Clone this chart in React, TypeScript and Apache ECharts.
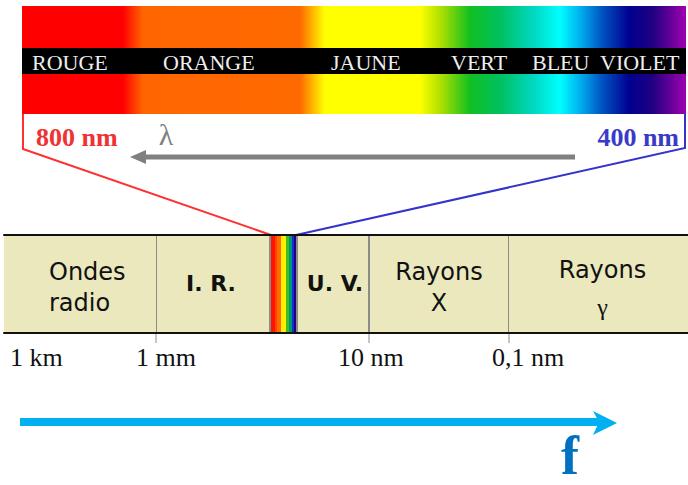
import React, { useEffect, useRef } from "react";
import * as echarts from "echarts";

// ---- data ----
const bandNames = ["Ondes\nradio", "I. R.", "", "U. V.", "Rayons\nX", "Rayons\nγ"];
const bandWidths = [152, 114, 27, 72, 140, 179];
const wavelengthLabels = ["1 km", "1 mm", "10 nm", "0,1 nm"];
const wavelengthBoundary = [0, 1, 4, 5];
const dividerBoundaries = [1, 4, 5];
const colorNames = ["ROUGE", "ORANGE", "JAUNE", "VERT", "BLEU", "VIOLET"];
const visibleRange = ["800 nm", "400 nm"];
const spectrumStops: [number, string][] = [
  [0, "#FF0000"], [0.152, "#FF0000"], [0.182, "#FF6600"], [0.419, "#FF6A00"],
  [0.456, "#FFFF00"], [0.599, "#FFFF00"], [0.63, "#B0E000"], [0.675, "#10C020"],
  [0.72, "#00C060"], [0.77, "#00D8C0"], [0.81, "#00FFFF"], [0.84, "#00B0F0"],
  [0.875, "#0050C0"], [0.915, "#000090"], [0.95, "#200080"], [1, "#A000B0"],
];
const stripColors = ["#FF1400", "#FF4400", "#FF6A00", "#FFEE00", "#44BB22", "#009977", "#1133CC", "#220088"];
const stripWidths = [5, 2, 4, 5, 3, 3, 2, 3];

export default function App() {
  const ref = useRef<HTMLDivElement>(null);
  useEffect(() => {
    const chart = echarts.init(ref.current!, null, { renderer: "svg" });
    const total = bandWidths.reduce((a, b) => a + b, 0);
    const bounds = [0];
    bandWidths.forEach((w) => bounds.push(bounds[bounds.length - 1] + w));

    const sw = stripWidths.reduce((a, b) => a + b, 0);
    const stripStops: { offset: number; color: string }[] = [];
    let acc = 0;
    stripColors.forEach((c, i) => {
      stripStops.push({ offset: acc / sw, color: c });
      acc += stripWidths[i];
      stripStops.push({ offset: acc / sw, color: c });
    });

    const labelFor = (i: number): any => {
      const base = {
        show: true, color: "#111", fontFamily: "DejaVu Sans", fontSize: 24, lineHeight: 31,
        formatter: () => bandNames[i],
      };
      if (i === 0) return { ...base, position: "insideLeft", offset: [40, 3], align: "left" };
      if (i === 1) return { ...base, position: "inside", offset: [-2, -1], fontWeight: "bold", fontSize: 22 };
      if (i === 2) return { show: false };
      if (i === 3) return { ...base, position: "inside", offset: [2, -1], fontWeight: "bold", fontSize: 22 };
      if (i === 4) return { ...base, position: "inside", offset: [0, 3] };
      return {
        ...base,
        position: "inside",
        offset: [4, 6],
        formatter: () => "{a|Rayons}\n{g|γ}",
        rich: {
          a: { fontFamily: "DejaVu Sans", fontSize: 24, lineHeight: 34, color: "#111" },
          g: { fontFamily: "Liberation Serif", fontSize: 24, lineHeight: 40, color: "#111" },
        },
      };
    };

    chart.setOption({
      animation: false,
      backgroundColor: "#fff",
      grid: { left: 4, right: 0, top: 235, height: 98 },
      xAxis: [
        {
          type: "value", min: 0, max: total, position: "bottom", z: 5,
          axisLine: { show: true, lineStyle: { color: "#111", width: 2 } },
          axisTick: { show: false }, axisLabel: { show: false }, splitLine: { show: false },
        },
        {
          type: "value", min: 0, max: total, position: "top", z: 5,
          axisLine: { show: true, lineStyle: { color: "#111", width: 2 } },
          axisTick: { show: false }, axisLabel: { show: false }, splitLine: { show: false },
        },
      ],
      yAxis: { type: "category", data: ["spectre"], show: false },
      series: bandNames.map((name, i) => ({
        type: "bar",
        name: name || "visible",
        stack: "band",
        barWidth: "100%",
        data: [bandWidths[i]],
        itemStyle: {
          color: i === 2 ? new echarts.graphic.LinearGradient(0, 0, 1, 0, stripStops) : "#EAE8BC",
          borderColor: "#8c8c8c",
          borderWidth: i === 0 || i === 5 ? 0 : 1,
        },
        label: labelFor(i),
      })),
    });

    const px = (v: number) => chart.convertToPixel({ xAxisIndex: 0 }, v) as number;
    const stripLeft = px(bounds[2]);
    const stripRight = px(bounds[3]);

    const labelOffsets = [6, -20, -31, -17];
    const colorLabelX = [32, 163, 331, 451, 532, 600];

    const graphics: any[] = [
      {
        type: "rect",
        shape: { x: 22, y: 6, width: 664, height: 108 },
        style: {
          fill: new echarts.graphic.LinearGradient(0, 0, 1, 0,
            spectrumStops.map(([o, c]) => ({ offset: o, color: c }))),
        },
      },
      { type: "rect", shape: { x: 22, y: 48, width: 664, height: 26 }, style: { fill: "#000" } },
      ...colorNames.map((t, i) => ({
        type: "text",
        style: {
          text: t, x: colorLabelX[i], y: 62, fill: "#EEEEEE",
          font: '22px "Liberation Serif"', align: "left", verticalAlign: "middle",
        },
      })),
      {
        type: "polyline",
        shape: { points: [[23, 114], [23, 149], [stripLeft + 1, 235]] },
        style: { stroke: "#FF3030", lineWidth: 2, fill: null },
      },
      {
        type: "polyline",
        shape: { points: [[685, 114], [685, 148], [stripRight - 1, 235]] },
        style: { stroke: "#3434CC", lineWidth: 2, fill: null },
      },
      {
        type: "text",
        style: { text: visibleRange[0], x: 36, y: 137, fill: "#F03232", font: 'bold 26px "Liberation Serif"', align: "left", verticalAlign: "middle" },
      },
      {
        type: "text",
        style: { text: visibleRange[1], x: 679, y: 137, fill: "#3A3AC8", font: 'bold 26px "Liberation Serif"', align: "right", verticalAlign: "middle" },
      },
      {
        type: "text",
        style: { text: "λ", x: 166, y: 134, fill: "#808080", font: '30px "Liberation Serif"', align: "center", verticalAlign: "middle" },
      },
      { type: "line", shape: { x1: 575, y1: 157, x2: 142, y2: 157 }, style: { stroke: "#808080", lineWidth: 5 } },
      { type: "polygon", shape: { points: [[130, 157], [146, 150], [146, 164]] }, style: { fill: "#808080" } },
      ...dividerBoundaries.map((b) => ({
        type: "line",
        shape: { x1: px(bounds[b]), y1: 333, x2: px(bounds[b]), y2: 343 },
        style: { stroke: "#8c8c8c", lineWidth: 1 },
      })),
      ...wavelengthLabels.map((t, i) => ({
        type: "text",
        style: {
          text: t, x: px(bounds[wavelengthBoundary[i]]) + labelOffsets[i], y: 357,
          fill: "#111", font: '26px "Liberation Serif"', align: "left", verticalAlign: "middle",
        },
      })),
      { type: "line", shape: { x1: 20, y1: 422, x2: 600, y2: 422 }, style: { stroke: "#00B0F0", lineWidth: 8 } },
      { type: "polygon", shape: { points: [[617, 423], [593, 411], [599, 422], [593, 435]] }, style: { fill: "#00B0F0" } },
      {
        type: "text",
        style: {
          text: "f", x: 570, y: 456, fill: "#0070C0", fontFamily: "Liberation Serif",
          fontWeight: "bold", fontSize: 54, lineHeight: 40, align: "center", verticalAlign: "middle",
        },
      },
    ];
    chart.setOption({ graphic: graphics });
    return () => chart.dispose();
  }, []);
  return <div ref={ref} style={{ position: "absolute", left: 0, top: 0, width: 688, height: 485 }} />;
}
